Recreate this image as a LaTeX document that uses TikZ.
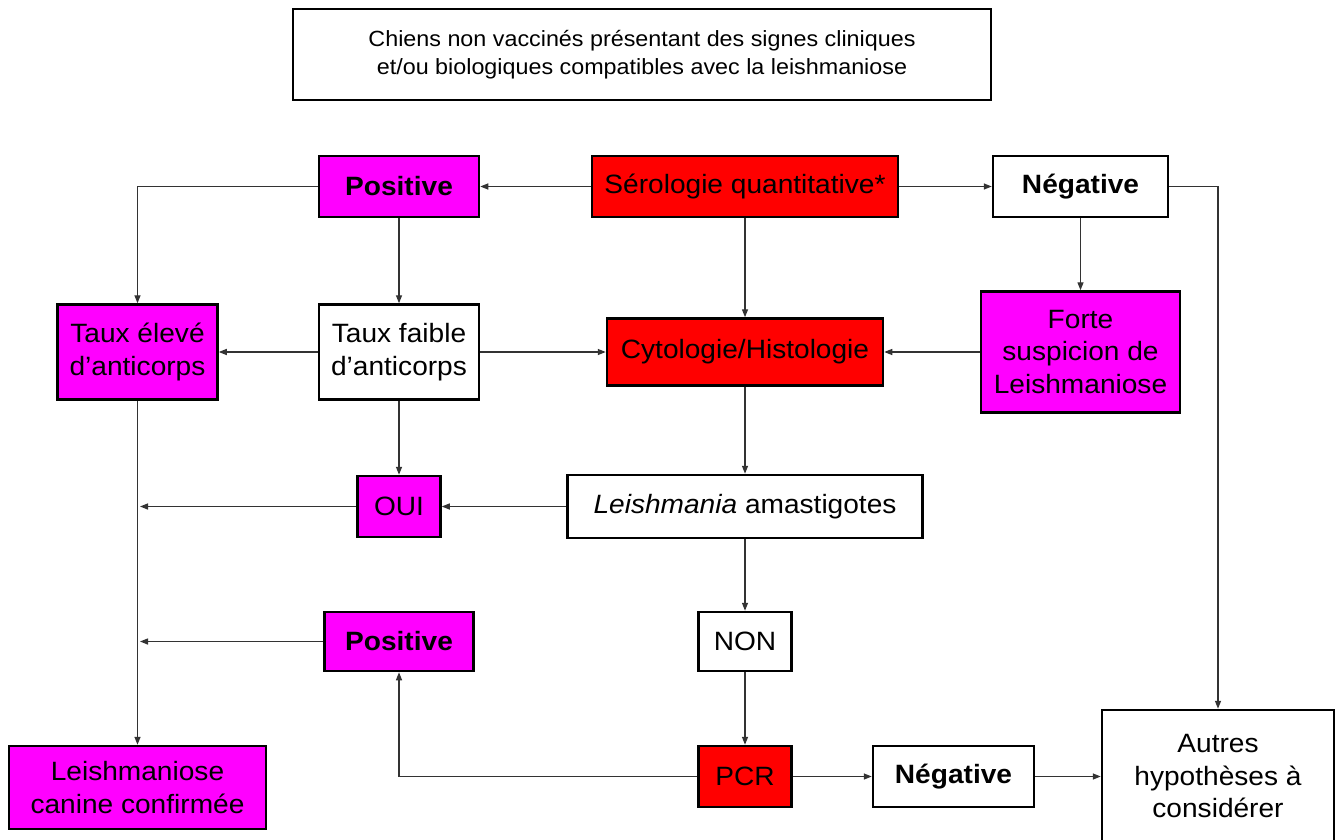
\documentclass[tikz,border=0pt]{standalone}
\usepackage{fontspec}
\setmainfont[FakeStretch=1.06]{Liberation Sans}
\usetikzlibrary{arrows.meta}
\definecolor{mag}{HTML}{FF00FF}
\definecolor{rouge}{HTML}{FF0000}
\begin{document}
\begin{tikzpicture}[x=1pt,y=-1pt,
  box/.style={draw=black, line width=2.5pt, align=center, inner sep=0pt,
    font=\fontsize{26.5}{32.5}\selectfont},
  sz/.style 2 args={minimum width=#1pt, minimum height=#2pt},
  arr/.style={draw=black!80, line width=1.4pt, -{Triangle[length=8pt,width=6pt]}}]
\useasboundingbox (0,0) rectangle (1343,840);
\fill[white] (0,0) rectangle (1343,840);

\node[box, sz={698}{91}, font=\fontsize{22}{28}\selectfont] (top) at (642,54.5)
  {Chiens non vaccinés présentant des signes cliniques\\et/ou biologiques compatibles avec la leishmaniose};

\node[box, fill=rouge, sz={306}{61}] (sero) at (745,186.5) {Sérologie quantitative*};
\node[box, fill=mag, sz={160}{61}] (posA) at (399,186.5) {\textbf{Positive}};
\node[box, fill=white, sz={175}{61}] (negA) at (1080.5,186.5) {\textbf{Négative}};

\node[box, fill=mag, sz={160}{95}] (eleve) at (137.5,352) {Taux élevé\\d’anticorps};
\node[box, fill=white, sz={160}{95}] (faible) at (399,352) {Taux faible\\d’anticorps};
\node[box, fill=rouge, sz={276}{67}] (cyto) at (745,352) {Cytologie/Histologie};
\node[box, fill=mag, sz={199}{121}] (forte) at (1080.5,352) {Forte\\suspicion de\\Leishmaniose};

\node[box, fill=mag, sz={83}{61}] (oui) at (399,506.5) {OUI};
\node[box, fill=white, sz={355}{63}] (leish) at (745,506.5) {\textit{Leishmania} amastigotes};

\node[box, fill=mag, sz={149}{59}] (posB) at (399,641.5) {\textbf{Positive}};
\node[box, fill=white, sz={93}{59}] (non) at (745,641.5) {NON};

\node[box, fill=rouge, sz={93}{61}] (pcr) at (745,776.5) {PCR};
\node[box, fill=white, sz={161}{61}] (negB) at (953.5,776.5) {\textbf{Négative}};
\node[box, fill=white, sz={232}{133}] (autres) at (1218,776.5) {Autres\\hypothèses à\\considérer};
\node[box, fill=mag, sz={257}{83}] (conf) at (137.5,787.5) {Leishmaniose\\canine confirmée};

\coordinate (j1) at (140,506.5);
\coordinate (j2) at (140,641.5);

\draw[arr] (sero.west) -- (posA.east);
\draw[arr] (sero.east) -- (negA.west);
\draw[arr] (posA.west) -| (eleve.north);
\draw[arr] (posA.south) -- (faible.north);
\draw[arr] (sero.south) -- (cyto.north);
\draw[arr] (negA.east) -| (autres.north);
\draw[arr] (negA.south) -- (forte.north);
\draw[arr] (forte.west) -- (cyto.east);
\draw[arr] (faible.west) -- (eleve.east);
\draw[arr] (faible.east) -- (cyto.west);
\draw[arr] (faible.south) -- (oui.north);
\draw[arr] (cyto.south) -- (leish.north);
\draw[arr] (leish.west) -- (oui.east);
\draw[arr] (oui.west) -- (j1);
\draw[arr] (eleve.south) -- (conf.north);
\draw[arr] (leish.south) -- (non.north);
\draw[arr] (posB.west) -- (j2);
\draw[arr] (non.south) -- (pcr.north);
\draw[arr] (pcr.west) -| (posB.south);
\draw[arr] (pcr.east) -- (negB.west);
\draw[arr] (negB.east) -- (autres.west);
\end{tikzpicture}
\end{document}
